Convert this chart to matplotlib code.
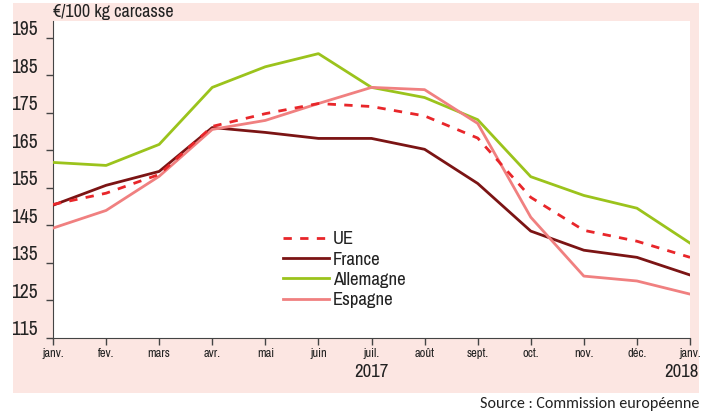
import matplotlib
matplotlib.use('Agg')
import matplotlib.pyplot as plt

# Données (€/100 kg carcasse), janv. 2017 -> janv. 2018
mois = ['janv.', 'fev.', 'mars', 'avr.', 'mai', 'juin', 'juil.', 'août',
        'sept.', 'oct.', 'nov.', 'déc.', 'janv.']
ue = [150.6, 153.6, 158.6, 171.4, 174.8, 177.5, 176.7, 174.2, 168.3, 152.5, 143.7, 140.8, 136.5]
france = [150.4, 155.7, 159.4, 171.1, 169.8, 168.2, 168.2, 165.3, 156.2, 143.5, 138.4, 136.5, 131.8]
allemagne = [161.8, 161.0, 166.6, 181.8, 187.3, 190.8, 181.8, 179.1, 173.2, 158.0, 153.0, 149.6, 140.3]
espagne = [144.3, 149.0, 158.1, 170.6, 173.0, 177.5, 181.8, 181.2, 172.2, 147.2, 131.5, 130.2, 126.7]
yticks = [115, 125, 135, 145, 155, 165, 175, 185, 195]

rose = '#FCE6E2'
narrow = ['Arial Narrow', 'Archivo Narrow', 'PT Sans Narrow', 'Roboto Condensed', 'DejaVu Sans']
plt.rcParams['font.family'] = narrow
plt.rcParams['text.color'] = '#222222'

fig = plt.figure(figsize=(7.11, 4.12), dpi=100)
fig.patch.set_facecolor('white')
# fond rose du cadre
fond = plt.Rectangle((13 / 711, 1 - 393 / 412), 686 / 711, 390 / 412,
                     transform=fig.transFigure, facecolor=rose, edgecolor='none', zorder=-10)
fig.patches.append(fond)

ax = fig.add_axes([53 / 711, 1 - 338 / 412, 637 / 711, 317 / 412])
ax.set_facecolor('white')
x = list(range(len(mois)))

ax.plot(x, allemagne, color='#9BC31C', lw=2, label='Allemagne', zorder=3)
ax.plot(x, espagne, color='#F08080', lw=2, label='Espagne', zorder=4)
ax.plot(x, france, color='#7B1414', lw=2, label='France', zorder=3)
ax.plot(x, ue, color='#E8262A', lw=2, dashes=(3, 3), label='UE', zorder=5)

ax.set_xlim(0, 12)
ax.set_ylim(115, 199.5)
ax.set_xticks(x)
ax.set_xticklabels(mois, fontsize=9)
ax.tick_params(axis='x', direction='out', length=5, color='#444444', width=1, pad=2,
               labelcolor='#222222')

# les étiquettes de l'axe y sont un peu au-dessus des graduations
ax.set_yticks([v + 2.7 for v in yticks])
ax.set_yticklabels([str(v) for v in yticks], fontsize=14)
ax.tick_params(axis='y', which='major', length=0, pad=11, labelcolor='#222222')
ax.set_yticks(yticks, minor=True)
ax.tick_params(axis='y', which='minor', direction='out', length=5, color='#444444', width=1)

for s in ['top', 'right']:
    ax.spines[s].set_visible(False)
for s in ['left', 'bottom']:
    ax.spines[s].set_color('#444444')

h, l = ax.get_legend_handles_labels()
ordre = [3, 2, 0, 1]
ax.legend([h[i] for i in ordre], [l[i] for i in ordre], frameon=False, fontsize=13.5,
          loc='upper left', bbox_to_anchor=(274 / 711, 1 - 222 / 412),
          bbox_transform=fig.transFigure, handlelength=2.45, handletextpad=0.2,
          labelspacing=0.22, borderpad=0)

fig.text(53 / 711, 1 - 12 / 412, '€/100 kg carcasse', fontsize=13, ha='left', va='center')
fig.text(371 / 711, 1 - 372 / 412, '2017', fontsize=13.5, ha='center', va='center')
fig.text(699 / 711, 1 - 372 / 412, '2018', fontsize=13.5, ha='right', va='center')
fig.text(699 / 711, 1 - 404 / 412, 'Source : Commission européenne', fontsize=11.5,
         ha='right', va='center', family=['Carlito', 'Lato', 'DejaVu Sans'])

fig.savefig('out.png', dpi=100, facecolor=fig.get_facecolor())
